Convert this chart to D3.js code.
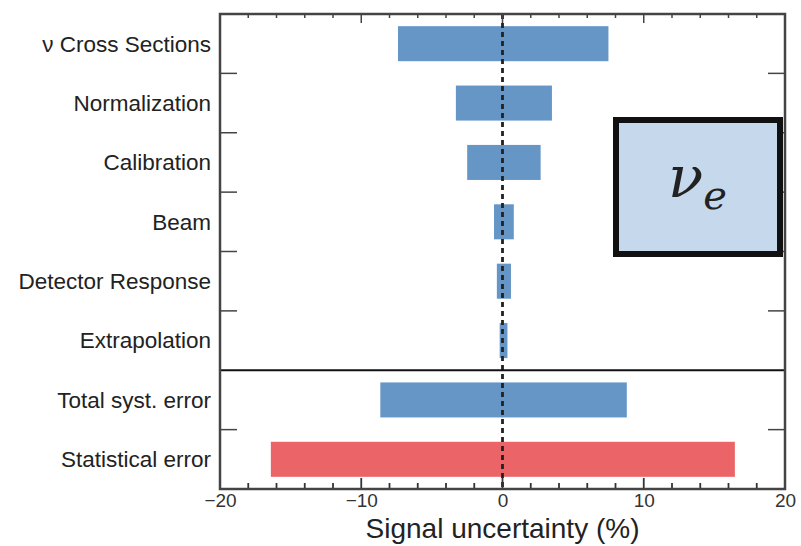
<!DOCTYPE html>
<html>
<head>
<meta charset="utf-8">
<script src="https://cdn.jsdelivr.net/npm/d3@7"></script>
<style>
  body { margin: 0; background: #fff; }
  svg { display: block; font-family: "Liberation Sans", Arial, sans-serif; }
</style>
</head>
<body>
<svg></svg>
<script>
// categories top to bottom
let categories = ['ν Cross Sections', 'Normalization', 'Calibration', 'Beam',
                  'Detector Response', 'Extrapolation', 'Total syst. error', 'Statistical error']
// lower and upper edge of each bar (%)
let lowValues  = [-7.4, -3.3, -2.5, -0.6, -0.4, -0.2, -8.65, -16.4]
let highValues = [ 7.5,  3.5,  2.7,  0.8,  0.6,  0.35,  8.8,  16.45]
let xTicks = [-20, -10, 0, 10, 20]
let xMinorTicks = d3.range(-20, 21, 2)

let width = 801
let height = 546
let plotLeft = 220, plotRight = 785, plotTop = 14, plotBottom = 489

let svg = d3.select('svg')
svg.attr('width', width).attr('height', height)

let xScale = d3.scaleLinear().domain([-20, 20]).range([plotLeft, plotRight])
let yScale = d3.scaleBand().domain(categories).range([plotTop, plotBottom])
               .paddingInner(0.41).paddingOuter(0.205)

// bars
svg.selectAll('rect.bar')
   .data(categories)
   .enter()
   .append('rect')
   .attr('class', 'bar')
   .attr('x', (d, i) => xScale(lowValues[i]))
   .attr('width', (d, i) => xScale(highValues[i]) - xScale(lowValues[i]))
   .attr('y', d => yScale(d))
   .attr('height', yScale.bandwidth())
   .attr('fill', d => d == 'Statistical error' ? '#ea6468' : '#6596c6')

// dashed zero line
svg.append('line')
   .attr('x1', xScale(0)).attr('x2', xScale(0))
   .attr('y1', plotTop).attr('y2', plotBottom)
   .attr('stroke', '#222').attr('stroke-width', 2.8)
   .attr('stroke-dasharray', '5,4')

// boundaries between rows
let step = yScale.step()
let boundaries = categories.slice(1).map(c => yScale(c) - yScale.paddingInner() * step / 2)
let splitY = boundaries[5]

svg.selectAll('line.ltick')
   .data(boundaries.filter((b, i) => i != 5))
   .enter()
   .append('line')
   .attr('x1', plotLeft).attr('x2', plotLeft + 17)
   .attr('y1', d => d).attr('y2', d => d)
   .attr('stroke', '#444').attr('stroke-width', 1.5)
svg.selectAll('line.rtick')
   .data(boundaries.filter((b, i) => i != 5))
   .enter()
   .append('line')
   .attr('x1', plotRight).attr('x2', plotRight - 17)
   .attr('y1', d => d).attr('y2', d => d)
   .attr('stroke', '#444').attr('stroke-width', 1.5)

// divider between systematic and totals
svg.append('line')
   .attr('x1', plotLeft).attr('x2', plotRight)
   .attr('y1', splitY).attr('y2', splitY)
   .attr('stroke', '#111').attr('stroke-width', 2)

// x tick marks, pointing into the plot (bottom and top)
let tickLen = v => v % 10 == 0 ? 11 : 6
svg.selectAll('line.btick')
   .data(xMinorTicks)
   .enter()
   .append('line')
   .attr('x1', d => xScale(d)).attr('x2', d => xScale(d))
   .attr('y1', plotBottom).attr('y2', d => plotBottom - tickLen(d))
   .attr('stroke', '#333').attr('stroke-width', 1.8)
svg.selectAll('line.ttick')
   .data(xMinorTicks)
   .enter()
   .append('line')
   .attr('x1', d => xScale(d)).attr('x2', d => xScale(d))
   .attr('y1', plotTop).attr('y2', d => plotTop + tickLen(d) - 2)
   .attr('stroke', '#444').attr('stroke-width', 1.5)

// bottom axis labels
let xAxis = d3.axisBottom(xScale).tickValues(xTicks).tickSize(0).tickPadding(5)
let gx = svg.append('g').attr('transform', 'translate(0,' + plotBottom + ')').call(xAxis)
gx.select('.domain').remove()
gx.selectAll('.tick text').attr('font-size', 19).attr('fill', '#333')

// category labels
svg.selectAll('text.cat')
   .data(categories)
   .enter()
   .append('text')
   .attr('x', plotLeft - 9)
   .attr('y', d => yScale(d) + yScale.bandwidth() / 2)
   .attr('dy', '0.35em')
   .attr('text-anchor', 'end')
   .attr('font-size', 22.5)
   .attr('fill', '#222')
   .text(d => d)

// frame
svg.append('rect')
   .attr('x', plotLeft).attr('y', plotTop)
   .attr('width', plotRight - plotLeft).attr('height', plotBottom - plotTop)
   .attr('fill', 'none').attr('stroke', '#444').attr('stroke-width', 2.5)

// axis title
svg.append('text')
   .attr('x', xScale(0)).attr('y', 538)
   .attr('text-anchor', 'middle')
   .attr('font-size', 28)
   .attr('fill', '#222')
   .text('Signal uncertainty (%)')

// nu_e box
svg.append('rect')
   .attr('x', 616).attr('y', 120)
   .attr('width', 164).attr('height', 134)
   .attr('fill', '#c6d9ec').attr('stroke', '#111').attr('stroke-width', 6)
let lab = svg.append('text')
   .attr('x', 668).attr('y', 197)
   .attr('font-family', '"DejaVu Serif", "Liberation Serif", serif')
   .attr('font-style', 'italic')
   .attr('fill', '#222')
lab.append('tspan').attr('font-size', 58).text('ν')
lab.append('tspan').attr('font-size', 40).attr('dy', 12).text('e')
</script>
</body>
</html>
